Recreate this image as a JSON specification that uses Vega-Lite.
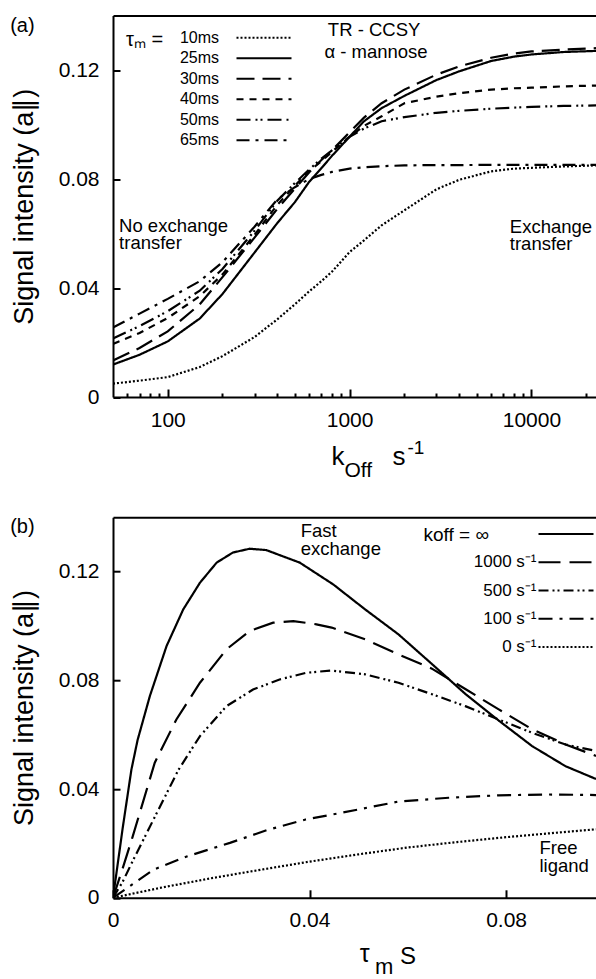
{
  "$schema": "https://vega.github.io/schema/vega-lite/v6.json",
  "background": "white",
  "padding": {"left": 10, "top": 15.5, "right": 0, "bottom": 0},
  "autosize": {"type": "pad"},
  "bounds": "flush",
  "spacing": 119.7,
  "resolve": {"scale": {"strokeDash": "independent"}, "legend": {"strokeDash": "independent"}},
  "config": {
    "font": "Liberation Sans",
    "view": {"stroke": null},
    "axis": {"domainColor": "black", "domainWidth": 2, "tickColor": "black", "tickWidth": 2, "labelColor": "black", "labelFont": "Liberation Sans", "labelFontSize": 21, "titleFont": "Liberation Sans", "titleFontSize": 27, "titleFontWeight": "normal", "titleColor": "black", "grid": false, "labelFlush": false, "labelOverlap": false},
    "legend": {"labelFont": "Liberation Sans", "titleFont": "Liberation Sans", "labelColor": "black", "titleColor": "black"},
    "title": {"fontSize": 20, "fontWeight": "normal", "anchor": "start", "frame": "bounds", "color": "black", "font": "Liberation Sans"},
    "text": {"font": "Liberation Sans", "color": "black"}
  },
  "datasets": {
    "a": [
      {"tm": "10ms", "koff": 50, "signal": 0.0049}, {"tm": "10ms", "koff": 70, "signal": 0.006}, {"tm": "10ms", "koff": 100, "signal": 0.0073}, {"tm": "10ms", "koff": 150, "signal": 0.011}, {"tm": "10ms", "koff": 200, "signal": 0.015}, {"tm": "10ms", "koff": 300, "signal": 0.022}, {"tm": "10ms", "koff": 400, "signal": 0.0285}, {"tm": "10ms", "koff": 500, "signal": 0.034}, {"tm": "10ms", "koff": 600, "signal": 0.0388}, {"tm": "10ms", "koff": 700, "signal": 0.0425}, {"tm": "10ms", "koff": 800, "signal": 0.046}, {"tm": "10ms", "koff": 1000, "signal": 0.0532}, {"tm": "10ms", "koff": 1200, "signal": 0.0575}, {"tm": "10ms", "koff": 1500, "signal": 0.063}, {"tm": "10ms", "koff": 2000, "signal": 0.0685}, {"tm": "10ms", "koff": 3000, "signal": 0.0762}, {"tm": "10ms", "koff": 4000, "signal": 0.0797}, {"tm": "10ms", "koff": 6000, "signal": 0.0828}, {"tm": "10ms", "koff": 8000, "signal": 0.0838}, {"tm": "10ms", "koff": 10000, "signal": 0.0841}, {"tm": "10ms", "koff": 15000, "signal": 0.0846}, {"tm": "10ms", "koff": 22640, "signal": 0.085},
      {"tm": "25ms", "koff": 50, "signal": 0.0119}, {"tm": "25ms", "koff": 70, "signal": 0.0155}, {"tm": "25ms", "koff": 100, "signal": 0.0204}, {"tm": "25ms", "koff": 150, "signal": 0.0288}, {"tm": "25ms", "koff": 200, "signal": 0.0378}, {"tm": "25ms", "koff": 300, "signal": 0.053}, {"tm": "25ms", "koff": 400, "signal": 0.0638}, {"tm": "25ms", "koff": 500, "signal": 0.0715}, {"tm": "25ms", "koff": 600, "signal": 0.079}, {"tm": "25ms", "koff": 700, "signal": 0.084}, {"tm": "25ms", "koff": 800, "signal": 0.0885}, {"tm": "25ms", "koff": 1000, "signal": 0.0955}, {"tm": "25ms", "koff": 1200, "signal": 0.1012}, {"tm": "25ms", "koff": 1500, "signal": 0.106}, {"tm": "25ms", "koff": 2000, "signal": 0.1105}, {"tm": "25ms", "koff": 3000, "signal": 0.1163}, {"tm": "25ms", "koff": 4000, "signal": 0.1195}, {"tm": "25ms", "koff": 6000, "signal": 0.1233}, {"tm": "25ms", "koff": 8000, "signal": 0.1249}, {"tm": "25ms", "koff": 10000, "signal": 0.1257}, {"tm": "25ms", "koff": 15000, "signal": 0.1266}, {"tm": "25ms", "koff": 22640, "signal": 0.127},
      {"tm": "30ms", "koff": 50, "signal": 0.0134}, {"tm": "30ms", "koff": 70, "signal": 0.018}, {"tm": "30ms", "koff": 100, "signal": 0.0241}, {"tm": "30ms", "koff": 150, "signal": 0.034}, {"tm": "30ms", "koff": 200, "signal": 0.044}, {"tm": "30ms", "koff": 300, "signal": 0.0585}, {"tm": "30ms", "koff": 400, "signal": 0.069}, {"tm": "30ms", "koff": 500, "signal": 0.0765}, {"tm": "30ms", "koff": 600, "signal": 0.0825}, {"tm": "30ms", "koff": 700, "signal": 0.087}, {"tm": "30ms", "koff": 800, "signal": 0.0905}, {"tm": "30ms", "koff": 1000, "signal": 0.0972}, {"tm": "30ms", "koff": 1200, "signal": 0.1025}, {"tm": "30ms", "koff": 1500, "signal": 0.1078}, {"tm": "30ms", "koff": 2000, "signal": 0.1128}, {"tm": "30ms", "koff": 3000, "signal": 0.1183}, {"tm": "30ms", "koff": 4000, "signal": 0.1213}, {"tm": "30ms", "koff": 6000, "signal": 0.1245}, {"tm": "30ms", "koff": 8000, "signal": 0.126}, {"tm": "30ms", "koff": 10000, "signal": 0.1268}, {"tm": "30ms", "koff": 15000, "signal": 0.1275}, {"tm": "30ms", "koff": 22640, "signal": 0.128},
      {"tm": "40ms", "koff": 50, "signal": 0.0195}, {"tm": "40ms", "koff": 70, "signal": 0.0235}, {"tm": "40ms", "koff": 100, "signal": 0.029}, {"tm": "40ms", "koff": 150, "signal": 0.037}, {"tm": "40ms", "koff": 200, "signal": 0.045}, {"tm": "40ms", "koff": 300, "signal": 0.0595}, {"tm": "40ms", "koff": 400, "signal": 0.0705}, {"tm": "40ms", "koff": 500, "signal": 0.0775}, {"tm": "40ms", "koff": 600, "signal": 0.083}, {"tm": "40ms", "koff": 700, "signal": 0.0865}, {"tm": "40ms", "koff": 800, "signal": 0.09}, {"tm": "40ms", "koff": 1000, "signal": 0.0955}, {"tm": "40ms", "koff": 1200, "signal": 0.0995}, {"tm": "40ms", "koff": 1500, "signal": 0.103}, {"tm": "40ms", "koff": 2000, "signal": 0.1078}, {"tm": "40ms", "koff": 3000, "signal": 0.1102}, {"tm": "40ms", "koff": 4000, "signal": 0.1115}, {"tm": "40ms", "koff": 6000, "signal": 0.1128}, {"tm": "40ms", "koff": 8000, "signal": 0.1133}, {"tm": "40ms", "koff": 10000, "signal": 0.1135}, {"tm": "40ms", "koff": 15000, "signal": 0.114}, {"tm": "40ms", "koff": 22640, "signal": 0.1143},
      {"tm": "50ms", "koff": 50, "signal": 0.0215}, {"tm": "50ms", "koff": 70, "signal": 0.026}, {"tm": "50ms", "koff": 100, "signal": 0.0315}, {"tm": "50ms", "koff": 150, "signal": 0.039}, {"tm": "50ms", "koff": 200, "signal": 0.047}, {"tm": "50ms", "koff": 300, "signal": 0.061}, {"tm": "50ms", "koff": 400, "signal": 0.072}, {"tm": "50ms", "koff": 500, "signal": 0.0785}, {"tm": "50ms", "koff": 600, "signal": 0.0835}, {"tm": "50ms", "koff": 700, "signal": 0.0875}, {"tm": "50ms", "koff": 800, "signal": 0.0905}, {"tm": "50ms", "koff": 1000, "signal": 0.0955}, {"tm": "50ms", "koff": 1200, "signal": 0.0985}, {"tm": "50ms", "koff": 1500, "signal": 0.1012}, {"tm": "50ms", "koff": 2000, "signal": 0.1027}, {"tm": "50ms", "koff": 3000, "signal": 0.1043}, {"tm": "50ms", "koff": 4000, "signal": 0.105}, {"tm": "50ms", "koff": 6000, "signal": 0.1058}, {"tm": "50ms", "koff": 8000, "signal": 0.1062}, {"tm": "50ms", "koff": 10000, "signal": 0.1065}, {"tm": "50ms", "koff": 15000, "signal": 0.1068}, {"tm": "50ms", "koff": 22640, "signal": 0.107},
      {"tm": "65ms", "koff": 50, "signal": 0.0255}, {"tm": "65ms", "koff": 70, "signal": 0.0306}, {"tm": "65ms", "koff": 100, "signal": 0.036}, {"tm": "65ms", "koff": 150, "signal": 0.0425}, {"tm": "65ms", "koff": 200, "signal": 0.0495}, {"tm": "65ms", "koff": 300, "signal": 0.0625}, {"tm": "65ms", "koff": 400, "signal": 0.0725}, {"tm": "65ms", "koff": 500, "signal": 0.077}, {"tm": "65ms", "koff": 600, "signal": 0.08}, {"tm": "65ms", "koff": 700, "signal": 0.0815}, {"tm": "65ms", "koff": 800, "signal": 0.0826}, {"tm": "65ms", "koff": 1000, "signal": 0.0838}, {"tm": "65ms", "koff": 1200, "signal": 0.0843}, {"tm": "65ms", "koff": 1500, "signal": 0.0847}, {"tm": "65ms", "koff": 2000, "signal": 0.085}, {"tm": "65ms", "koff": 3000, "signal": 0.0851}, {"tm": "65ms", "koff": 4000, "signal": 0.0851}, {"tm": "65ms", "koff": 6000, "signal": 0.0852}, {"tm": "65ms", "koff": 8000, "signal": 0.0852}, {"tm": "65ms", "koff": 10000, "signal": 0.0852}, {"tm": "65ms", "koff": 15000, "signal": 0.0852}, {"tm": "65ms", "koff": 22640, "signal": 0.0852}
    ],
    "b": [
      {"k": "inf", "t": 0, "signal": 0}, {"k": "inf", "t": 0.001, "signal": 0.013}, {"k": "inf", "t": 0.002, "signal": 0.026}, {"k": "inf", "t": 0.00375, "signal": 0.0472}, {"k": "inf", "t": 0.005, "signal": 0.058}, {"k": "inf", "t": 0.0075, "signal": 0.0742}, {"k": "inf", "t": 0.0109, "signal": 0.0926}, {"k": "inf", "t": 0.0143, "signal": 0.1061}, {"k": "inf", "t": 0.0177, "signal": 0.1159}, {"k": "inf", "t": 0.0211, "signal": 0.1233}, {"k": "inf", "t": 0.0244, "signal": 0.127}, {"k": "inf", "t": 0.0278, "signal": 0.1284}, {"k": "inf", "t": 0.0312, "signal": 0.1279}, {"k": "inf", "t": 0.038, "signal": 0.1233}, {"k": "inf", "t": 0.0448, "signal": 0.1153}, {"k": "inf", "t": 0.0513, "signal": 0.1061}, {"k": "inf", "t": 0.0581, "signal": 0.0969}, {"k": "inf", "t": 0.0649, "signal": 0.086}, {"k": "inf", "t": 0.0717, "signal": 0.075}, {"k": "inf", "t": 0.0785, "signal": 0.0652}, {"k": "inf", "t": 0.0853, "signal": 0.0558}, {"k": "inf", "t": 0.0921, "signal": 0.0484}, {"k": "inf", "t": 0.0983, "signal": 0.0437},
      {"k": "1000", "t": 0, "signal": 0}, {"k": "1000", "t": 0.002, "signal": 0.011}, {"k": "1000", "t": 0.004, "signal": 0.0225}, {"k": "1000", "t": 0.0085, "signal": 0.0497}, {"k": "1000", "t": 0.0129, "signal": 0.0656}, {"k": "1000", "t": 0.0177, "signal": 0.0791}, {"k": "1000", "t": 0.0231, "signal": 0.0914}, {"k": "1000", "t": 0.0278, "signal": 0.0981}, {"k": "1000", "t": 0.0326, "signal": 0.1012}, {"k": "1000", "t": 0.0367, "signal": 0.1018}, {"k": "1000", "t": 0.0414, "signal": 0.1006}, {"k": "1000", "t": 0.0445, "signal": 0.0994}, {"k": "1000", "t": 0.0513, "signal": 0.0951}, {"k": "1000", "t": 0.0581, "signal": 0.0895}, {"k": "1000", "t": 0.0649, "signal": 0.0843}, {"k": "1000", "t": 0.0717, "signal": 0.0768}, {"k": "1000", "t": 0.0785, "signal": 0.0693}, {"k": "1000", "t": 0.0853, "signal": 0.062}, {"k": "1000", "t": 0.0921, "signal": 0.0564}, {"k": "1000", "t": 0.0983, "signal": 0.0522},
      {"k": "500", "t": 0, "signal": 0}, {"k": "500", "t": 0.002, "signal": 0.006}, {"k": "500", "t": 0.004, "signal": 0.0135}, {"k": "500", "t": 0.0083, "signal": 0.029}, {"k": "500", "t": 0.0133, "signal": 0.047}, {"k": "500", "t": 0.0177, "signal": 0.0595}, {"k": "500", "t": 0.0231, "signal": 0.0705}, {"k": "500", "t": 0.0285, "signal": 0.0766}, {"k": "500", "t": 0.0339, "signal": 0.0803}, {"k": "500", "t": 0.0394, "signal": 0.0828}, {"k": "500", "t": 0.0445, "signal": 0.0836}, {"k": "500", "t": 0.0513, "signal": 0.0822}, {"k": "500", "t": 0.0581, "signal": 0.0791}, {"k": "500", "t": 0.0649, "signal": 0.0749}, {"k": "500", "t": 0.0717, "signal": 0.0705}, {"k": "500", "t": 0.0785, "signal": 0.0656}, {"k": "500", "t": 0.0853, "signal": 0.0607}, {"k": "500", "t": 0.0921, "signal": 0.0564}, {"k": "500", "t": 0.0983, "signal": 0.054},
      {"k": "100", "t": 0, "signal": 0}, {"k": "100", "t": 0.004, "signal": 0.005}, {"k": "100", "t": 0.0083, "signal": 0.0104}, {"k": "100", "t": 0.015, "signal": 0.0152}, {"k": "100", "t": 0.0238, "signal": 0.0202}, {"k": "100", "t": 0.0315, "signal": 0.025}, {"k": "100", "t": 0.0392, "signal": 0.0288}, {"k": "100", "t": 0.0466, "signal": 0.0313}, {"k": "100", "t": 0.0581, "signal": 0.0354}, {"k": "100", "t": 0.0683, "signal": 0.0368}, {"k": "100", "t": 0.0785, "signal": 0.0377}, {"k": "100", "t": 0.0887, "signal": 0.038}, {"k": "100", "t": 0.0983, "signal": 0.0378},
      {"k": "0", "t": 0, "signal": 0}, {"k": "0", "t": 0.01, "signal": 0.0038}, {"k": "0", "t": 0.02, "signal": 0.0072}, {"k": "0", "t": 0.03, "signal": 0.0103}, {"k": "0", "t": 0.04, "signal": 0.0133}, {"k": "0", "t": 0.05, "signal": 0.016}, {"k": "0", "t": 0.06, "signal": 0.0185}, {"k": "0", "t": 0.07, "signal": 0.0205}, {"k": "0", "t": 0.08, "signal": 0.0223}, {"k": "0", "t": 0.09, "signal": 0.0239}, {"k": "0", "t": 0.0983, "signal": 0.0252}
    ]
  },
  "vconcat": [
    {
      "width": 483,
      "height": 381.5,
      "title": {"text": "(a)", "dy": 24},
      "resolve": {"axis": {"x": "independent", "y": "independent"}},
      "layer": [
        {
          "data": {"name": "a"},
          "mark": {"type": "line", "clip": true, "strokeWidth": 2.2, "color": "black"},
          "encoding": {
            "x": {"field": "koff", "type": "quantitative", "scale": {"type": "log", "domain": [50, 22640], "nice": false},
                  "axis": {"orient": "bottom", "values": [100, 1000, 10000], "format": "d", "tickSize": -8, "labelPadding": 20, "title": null}},
            "y": {"field": "signal", "type": "quantitative", "scale": {"domain": [0, 0.14], "nice": false},
                  "axis": {"orient": "left", "values": [0, 0.04, 0.08, 0.12], "labelExpr": "datum.value == 0 ? '0' : format(datum.value, '.2f')", "tickSize": -7, "labelPadding": 21, "title": "Signal intensity  (a\u2225)", "titlePadding": 20}},
            "strokeDash": {"field": "tm", "type": "nominal",
              "scale": {"domain": ["10ms", "25ms", "30ms", "40ms", "50ms", "65ms"], "range": [[2, 2], [1, 0], [18, 8], [7, 6], [14, 5, 2, 3, 2, 5], [13, 6, 3, 6]]},
              "legend": {"orient": "none", "legendX": 13, "legendY": 14.2, "title": "\u03c4\u2098 =", "titleOrient": "left", "titleAnchor": "start", "titleBaseline": "top", "titleFontSize": 20, "titleFontWeight": "normal", "titlePadding": 92, "labelAlign": "right", "labelOffset": -53, "labelFontSize": 16, "symbolType": "M-5,0H5", "symbolSize": 121, "symbolStrokeWidth": 2, "symbolStrokeColor": "black", "rowPadding": 4.5, "padding": 0}}
          }
        },
        {
          "data": {"values": [{}]},
          "mark": {"type": "text", "align": "left", "baseline": "alphabetic", "fontSize": 18.5, "lineHeight": 17.5},
          "encoding": {
            "x": {"datum": 54, "type": "quantitative", "axis": {"orient": "bottom", "values": [60, 70, 80, 90, 200, 300, 400, 500, 600, 700, 800, 900, 2000, 3000, 4000, 5000, 6000, 7000, 8000, 9000, 20000], "labels": false, "domain": false, "tickSize": -4, "title": null}},
            "y": {"datum": 0.0606, "type": "quantitative", "axis": null},
            "text": {"value": ["No exchange", "transfer"]}
          }
        },
        {
          "data": {"values": [{}]},
          "mark": {"type": "text", "align": "left", "baseline": "alphabetic", "fontSize": 18.5, "lineHeight": 17.5},
          "encoding": {
            "x": {"datum": 7600, "type": "quantitative", "axis": {"orient": "top", "ticks": false, "labels": false, "domain": true, "title": null}},
            "y": {"datum": 0.0603, "type": "quantitative", "axis": null},
            "text": {"value": ["Exchange", "transfer"]}
          }
        },
        {
          "data": {"values": [{}]},
          "mark": {"type": "text", "align": "left", "baseline": "alphabetic", "fontSize": 18.5},
          "encoding": {
            "x": {"datum": 759, "type": "quantitative", "axis": null},
            "y": {"datum": 0.1323, "type": "quantitative", "axis": null},
            "text": {"value": "TR - CCSY"}
          }
        },
        {
          "data": {"values": [{}]},
          "mark": {"type": "text", "align": "left", "baseline": "alphabetic", "fontSize": 18.5},
          "encoding": {
            "x": {"datum": 727, "type": "quantitative", "axis": null},
            "y": {"datum": 0.1245, "type": "quantitative", "axis": null},
            "text": {"value": "\u03b1 - mannose"}
          }
        },
        {
          "data": {"values": [{}]},
          "mark": {"type": "text", "align": "left", "baseline": "alphabetic", "fontSize": 26, "dy": 68},
          "encoding": {
            "x": {"datum": 795, "type": "quantitative", "axis": null},
            "y": {"datum": 0, "type": "quantitative", "axis": null},
            "text": {"value": "k"}
          }
        },
        {
          "data": {"values": [{}]},
          "mark": {"type": "text", "align": "left", "baseline": "alphabetic", "fontSize": 21, "dy": 80},
          "encoding": {
            "x": {"datum": 937, "type": "quantitative", "axis": null},
            "y": {"datum": 0, "type": "quantitative", "axis": null},
            "text": {"value": "Off"}
          }
        },
        {
          "data": {"values": [{}]},
          "mark": {"type": "text", "align": "left", "baseline": "alphabetic", "fontSize": 26, "dy": 68},
          "encoding": {
            "x": {"datum": 1720, "type": "quantitative", "axis": null},
            "y": {"datum": 0, "type": "quantitative", "axis": null},
            "text": {"value": "s"}
          }
        },
        {
          "data": {"values": [{}]},
          "mark": {"type": "text", "align": "left", "baseline": "alphabetic", "fontSize": 19, "dy": 57},
          "encoding": {
            "x": {"datum": 2079, "type": "quantitative", "axis": null},
            "y": {"datum": 0, "type": "quantitative", "axis": null},
            "text": {"value": "-1"}
          }
        }
      ]
    },
    {
      "width": 483,
      "height": 380.6,
      "title": {"text": "(b)", "dy": 24},
      "resolve": {"axis": {"x": "independent", "y": "independent"}},
      "layer": [
        {
          "data": {"name": "b"},
          "mark": {"type": "line", "clip": true, "strokeWidth": 2.2, "color": "black"},
          "encoding": {
            "x": {"field": "t", "type": "quantitative", "scale": {"domain": [0, 0.0983], "nice": false},
                  "axis": {"orient": "bottom", "values": [0, 0.04, 0.08], "labelExpr": "datum.value == 0 ? '0' : format(datum.value, '.2f')", "tickSize": -8, "labelPadding": 20, "title": null}},
            "y": {"field": "signal", "type": "quantitative", "scale": {"domain": [0, 0.14], "nice": false},
                  "axis": {"orient": "left", "values": [0, 0.04, 0.08, 0.12], "labelExpr": "datum.value == 0 ? '0' : format(datum.value, '.2f')", "tickSize": -7, "labelPadding": 21, "title": "Signal intensity  (a\u2225)", "titlePadding": 20}},
            "strokeDash": {"field": "k", "type": "nominal",
              "scale": {"domain": ["inf", "1000", "500", "100", "0"], "range": [[1, 0], [22, 9], [10, 4, 2, 3, 2, 4], [14, 7, 3, 7], [2, 2]]},
              "legend": {"orient": "none", "legendX": 310.5, "legendY": 8.3, "title": "koff  =  \u221e", "titleOrient": "left", "titleAnchor": "start", "titleBaseline": "top", "titleFontSize": 19, "titleFontWeight": "normal", "titlePadding": 57, "labelAlign": "right", "labelOffset": -38, "labelFontSize": 17, "labelExpr": "datum.value == 'inf' ? '' : datum.value + ' s\u207b\u00b9'", "symbolType": "M-5,0H5", "symbolSize": 121, "symbolStrokeWidth": 2, "symbolStrokeColor": "black", "rowPadding": 10.25, "padding": 0}}
          }
        },
        {
          "data": {"values": [{}]},
          "mark": {"type": "text", "align": "left", "baseline": "alphabetic", "fontSize": 18.5, "lineHeight": 17.5},
          "encoding": {
            "x": {"datum": 0.0382, "type": "quantitative", "axis": {"orient": "top", "ticks": false, "labels": false, "domain": true, "title": null}},
            "y": {"datum": 0.1326, "type": "quantitative", "axis": null},
            "text": {"value": ["Fast", "exchange"]}
          }
        },
        {
          "data": {"values": [{}]},
          "mark": {"type": "text", "align": "left", "baseline": "alphabetic", "fontSize": 18.5, "lineHeight": 17.5},
          "encoding": {
            "x": {"datum": 0.0868, "type": "quantitative", "axis": null},
            "y": {"datum": 0.016, "type": "quantitative", "axis": null},
            "text": {"value": ["Free", "ligand"]}
          }
        },
        {
          "data": {"values": [{}]},
          "mark": {"type": "text", "align": "left", "baseline": "alphabetic", "fontSize": 25, "dy": 64},
          "encoding": {
            "x": {"datum": 0.0502, "type": "quantitative", "axis": null},
            "y": {"datum": 0, "type": "quantitative", "axis": null},
            "text": {"value": "\u03c4"}
          }
        },
        {
          "data": {"values": [{}]},
          "mark": {"type": "text", "align": "left", "baseline": "alphabetic", "fontSize": 22, "dy": 76},
          "encoding": {
            "x": {"datum": 0.0533, "type": "quantitative", "axis": null},
            "y": {"datum": 0, "type": "quantitative", "axis": null},
            "text": {"value": "m"}
          }
        },
        {
          "data": {"values": [{}]},
          "mark": {"type": "text", "align": "left", "baseline": "alphabetic", "fontSize": 24, "dy": 66},
          "encoding": {
            "x": {"datum": 0.0584, "type": "quantitative", "axis": null},
            "y": {"datum": 0, "type": "quantitative", "axis": null},
            "text": {"value": "S"}
          }
        }
      ]
    }
  ]
}
